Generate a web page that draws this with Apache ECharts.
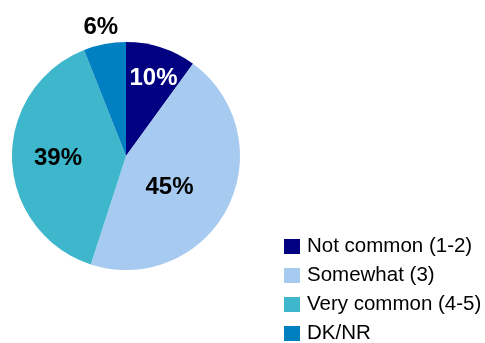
<!DOCTYPE html>
<html>
<head>
<meta charset="utf-8">
<script src="https://cdn.jsdelivr.net/npm/echarts@6/dist/echarts.min.js"></script>
<style>
  html, body { margin: 0; padding: 0; background: #ffffff; }
  #chart { width: 485px; height: 343px; }
</style>
</head>
<body>
<div id="chart"></div>
<script>
// Responses to "How common is it?"
const categories = ['Not common (1-2)', 'Somewhat (3)', 'Very common (4-5)', 'DK/NR'];
const shares = [10, 45, 39, 6];

// Slice colours and label styling
const sliceColors = ['#000080', '#A6CAF0', '#3EB6CB', '#0080C0'];
const labelColors = ['#ffffff', '#000000', '#000000', '#000000'];
const labelOffsets = [[9, -21], [-10, 4], [-8, 0], [-14, -70]];

const chart = echarts.init(document.getElementById('chart'), null, { renderer: 'canvas' });

const data = categories.map((name, i) => ({
  name: name,
  value: shares[i],
  itemStyle: { color: sliceColors[i] },
  label: { color: labelColors[i], offset: labelOffsets[i] }
}));

chart.setOption({
  animation: false,
  legend: {
    orient: 'vertical',
    left: 284,
    top: 236,
    height: 160,
    padding: 0,
    itemWidth: 16,
    itemHeight: 15,
    itemGap: 8,
    icon: 'rect',
    selectedMode: false,
    data: categories,
    textStyle: {
      fontFamily: 'Liberation Sans, Arial, sans-serif',
      fontSize: 20.5,
      color: '#000000',
      padding: [0, 0, 0, 2]
    }
  },
  series: [{
    type: 'pie',
    center: [126, 156],
    radius: 114,
    startAngle: 90,
    clockwise: true,
    avoidLabelOverlap: false,
    itemStyle: { borderWidth: 0 },
    label: {
      show: true,
      position: 'inside',
      formatter: p => p.value + '%',
      fontFamily: 'Liberation Sans, Arial, sans-serif',
      fontSize: 24,
      fontWeight: 'bold'
    },
    labelLine: { show: false },
    emphasis: { disabled: true },
    data: data
  }]
});
</script>
</body>
</html>
